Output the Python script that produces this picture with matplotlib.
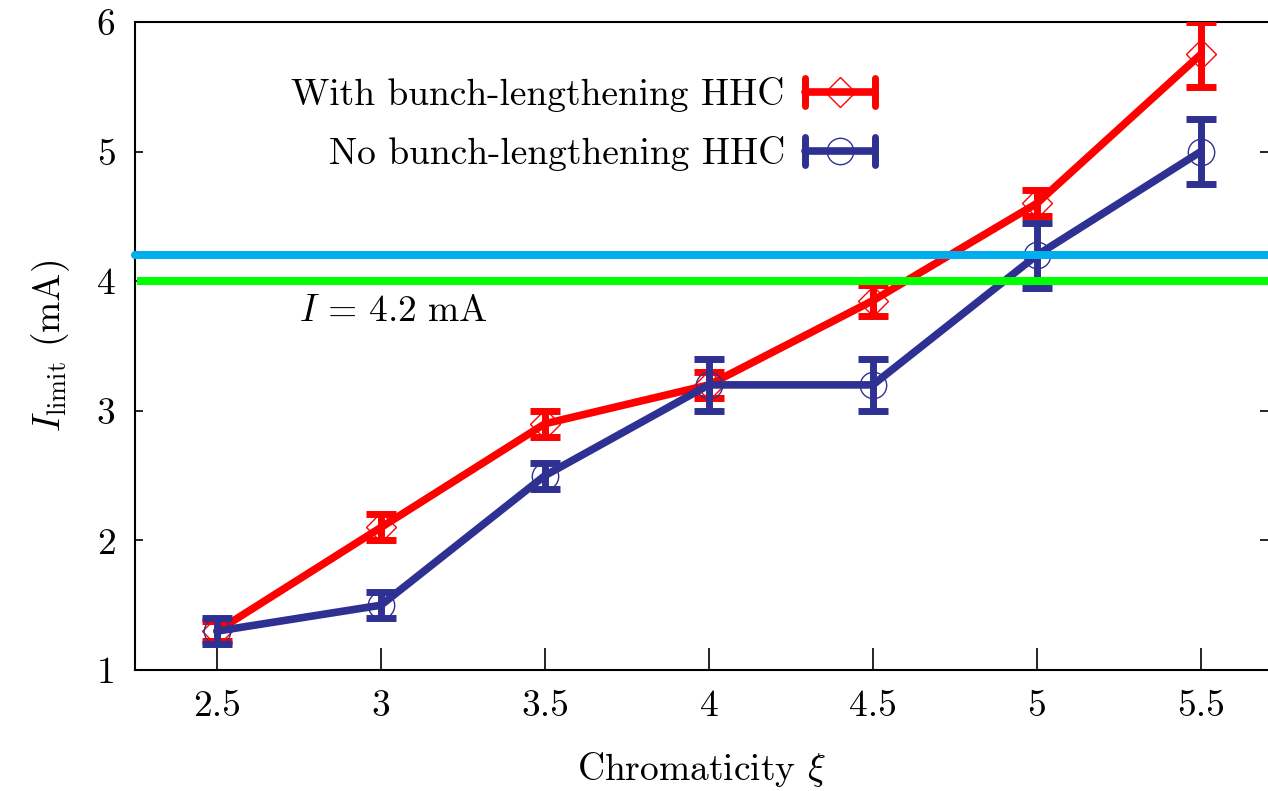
import matplotlib
matplotlib.use("Agg")
import matplotlib.pyplot as plt
from matplotlib.lines import Line2D
from matplotlib.legend_handler import HandlerBase

plt.rcParams['font.family'] = 'serif'
plt.rcParams['font.serif'] = ['cmr10']
plt.rcParams['mathtext.fontset'] = 'cm'
plt.rcParams['axes.formatter.use_mathtext'] = True

# data
xi = [2.5, 3, 3.5, 4, 4.5, 5, 5.5]
with_hhc = [1.3, 2.1, 2.9, 3.2, 3.85, 4.6, 5.75]
with_err = [0.08, 0.1, 0.1, 0.1, 0.12, 0.1, 0.25]
no_hhc = [1.3, 1.5, 2.5, 3.2, 3.2, 4.2, 5.0]
no_err = [0.1, 0.1, 0.1, 0.2, 0.2, 0.25, 0.25]
line_blue = 4.2
line_green = 4.0

red = '#ff0000'
navy = '#2e3192'
fs = 27


class HandlerErrKey(HandlerBase):
    # gnuplot style key: bar with end caps and the marker in the middle
    def create_artists(self, legend, orig_handle, xdescent, ydescent,
                       width, height, fontsize, trans):
        c = orig_handle.get_color()
        y = height / 2 - ydescent
        x0, x1 = -xdescent, width - xdescent
        bar = Line2D([x0, x1], [y, y], color=c, lw=5.5, solid_capstyle='round')
        cap1 = Line2D([x0, x0], [y - 10, y + 10], color=c, lw=5, solid_capstyle='round')
        cap2 = Line2D([x1, x1], [y - 10, y + 10], color=c, lw=5, solid_capstyle='round')
        mk = Line2D([(x0 + x1) / 2], [y], marker=orig_handle.get_marker(),
                    markersize=orig_handle.get_markersize(), mfc='none',
                    mec=c, mew=1.0, ls='none')
        arts = [bar, cap1, cap2, mk]
        for a in arts:
            a.set_transform(trans)
        return arts


fig = plt.figure(figsize=(12.68, 7.91), dpi=100)
ax = fig.add_axes([135 / 1268, 121 / 791, 1133 / 1268, 648 / 791])

series = [(with_hhc, with_err, red, 'D', 15, 3),
          (no_hhc, no_err, navy, 'o', 19, 4)]
for vals, err, col, mk, ms, z in series:
    cont = ax.errorbar(xi, vals, yerr=err, color=col, lw=5.5, elinewidth=5,
                       capsize=11, capthick=5, marker=mk, markersize=ms,
                       mfc='none', mec=col, solid_capstyle='round', zorder=z)
    cont[0].set_markeredgewidth(1.0)
    for cap in cont[1]:
        cap.set_markeredgewidth(5)

ax.axhline(line_blue, color='#00aeef', lw=5.8, solid_capstyle='round',
           clip_on=False, zorder=5)
ax.axhline(line_green, color='#00ff00', lw=5.8, xmin=0.005, zorder=5)

ax.text(2.75, 3.77, r'$I\,=\,4.2\ \mathrm{mA}$', fontsize=fs, va='center', ha='left')

ax.set_xlim(2.25, 5.705)
ax.set_ylim(1, 6)
ax.set_xticks(xi)
ax.set_xticklabels(['2.5', '3', '3.5', '4', '4.5', '5', '5.5'])
ax.set_yticks([1, 2, 3, 4, 5, 6])
ax.set_yticklabels(['1', '2', '3', '4', '5', '6'])
ax.tick_params(axis='x', direction='in', length=16, width=1.2, labelsize=fs, pad=14)
ax.tick_params(axis='y', direction='in', length=6, width=1.2, labelsize=fs,
               pad=14, right=True)
ax.spines['right'].set_visible(False)
for s in ['left', 'bottom', 'top']:
    ax.spines[s].set_linewidth(1.5)

ax.set_xlabel(r'Chromaticity $\xi$', fontsize=fs, labelpad=20)
ax.set_ylabel(r'$I_{\mathrm{limit}}$ (mA)', fontsize=fs, labelpad=18)

h1 = Line2D([], [], color=red, marker='D', markersize=15)
h2 = Line2D([], [], color=navy, marker='o', markersize=19)
ax.legend([h1, h2], ['With bunch-lengthening HHC', 'No bunch-lengthening HHC'],
          handler_map={Line2D: HandlerErrKey()}, loc='upper right',
          bbox_to_anchor=(0.653, 0.915), frameon=False, fontsize=fs,
          markerfirst=False, handlelength=1.85, handletextpad=0.55,
          labelspacing=0.65, borderpad=0, borderaxespad=0)

fig.savefig('out.png', dpi=100)
